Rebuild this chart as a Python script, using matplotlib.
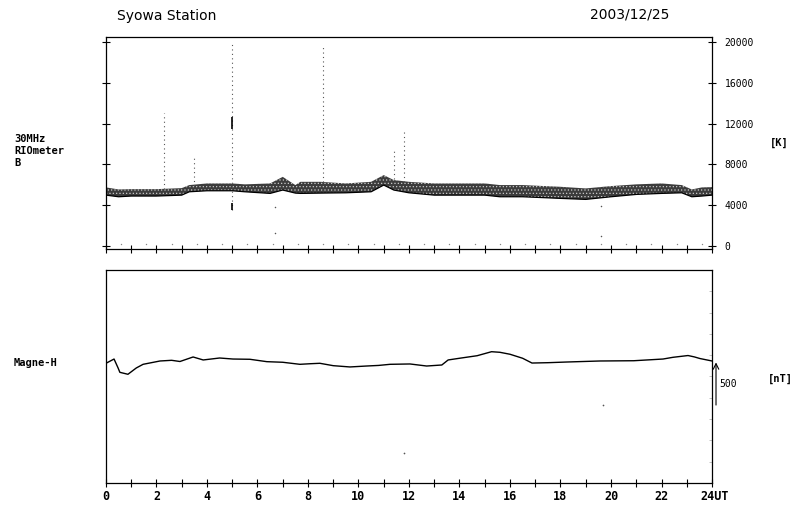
import matplotlib.pyplot as plt
import matplotlib.transforms as mtransforms

# 30 MHz riometer: envelope of the dense noise band [K]
rio_t = [0, 0.5, 1, 2, 3, 3.3, 4, 5, 5.5, 6.5, 7.0, 7.5, 7.7, 8.5, 9.5, 10.5, 11.0,
         11.4, 12, 13, 14, 15, 15.6, 16.5, 18, 19, 20, 21, 22, 22.8, 23.2, 23.6, 24]
rio_high = [5720, 5520, 5550, 5550, 5650, 5950, 6110, 6110, 6020, 6110, 6760, 5950,
            6270, 6270, 6110, 6270, 6930, 6440, 6270, 6110, 6110, 6110, 5950, 5950,
            5780, 5620, 5850, 6020, 6110, 5950, 5520, 5720, 5750]
rio_low = [4960, 4800, 4870, 4870, 4960, 5290, 5390, 5390, 5290, 5130, 5460, 5160,
           5130, 5160, 5190, 5290, 5950, 5460, 5190, 4960, 4960, 4960, 4800, 4800,
           4640, 4540, 4800, 5030, 5130, 5190, 4800, 4870, 4960]

# spikes (time, from, to) [K]
spike_t = [2.3, 3.5, 5.0, 8.6, 11.4, 11.8]
spike_lo = [5600, 5900, 3500, 6300, 6500, 6300]
spike_hi = [13000, 8900, 20000, 19700, 9500, 11400]

# isolated points
rio_dot_t = [6.7, 6.7, 19.6, 19.6]
rio_dot_v = [3780, 1260, 3900, 930]
base_dot_t = [0.6, 1.6, 2.6, 3.6, 4.6, 5.6, 6.6, 7.6, 8.6, 9.6, 10.6, 11.6,
              12.6, 13.6, 14.6, 15.6, 16.6, 17.6, 18.6, 19.6, 20.6, 21.6, 22.6, 23.6]
base_dot_v = [150] * len(base_dot_t)

# Magne-H, relative [nT]
mag_t = [0, 0.32, 0.48, 0.55, 0.87, 1.2, 1.47, 2.14, 2.6, 2.93, 3.45, 3.85, 4.5, 5.03,
         5.7, 6.37, 7.0, 7.68, 8.1, 8.47, 9.0, 9.66, 10.32, 10.8, 11.25, 12.04, 12.7,
         13.3, 13.55, 14.0, 14.7, 15.27, 15.6, 16.0, 16.5, 16.87, 17.5, 18.25, 19.56,
         20.9, 22.06, 22.45, 23.05, 23.3, 23.52, 24]
mag_v = [155, 205, 100, 49, 26, 100, 143, 182, 190, 176, 229, 194, 217, 205,
         202, 174, 167, 143, 150, 155, 127, 112, 123, 130, 143, 147, 123,
         135, 194, 214, 244, 291, 284, 261, 214, 158, 162, 170, 182,
         185, 205, 225, 246, 230, 211, 182]
mag_dot_t = [19.7, 11.8]
mag_dot_v = [-335, -900]

rio_ticks = [0, 4000, 8000, 12000, 16000, 20000]
hour_labels = ['0', '', '2', '', '4', '', '6', '', '8', '', '10', '', '12', '',
               '14', '', '16', '', '18', '', '20', '', '22', '', '24UT']

mono = 'DejaVu Sans Mono'
plt.rcParams['hatch.linewidth'] = 0.5
fig = plt.figure(figsize=(8.01, 5.07), dpi=100)
ax1 = fig.add_axes([0.1323, 0.5089, 0.7566, 0.4181])
ax2 = fig.add_axes([0.1323, 0.0473, 0.7566, 0.4202])

# --- riometer panel
ax1.fill_between(rio_t, rio_low, rio_high, facecolor='#3c3c3c', edgecolor='#c8c8c8',
                 hatch='.....', linewidth=0)
ax1.plot(rio_t, rio_low, color='black', lw=0.9)
ax1.vlines(spike_t, spike_lo, spike_hi, colors='#555555', linestyles=(0, (1, 3)), lw=0.8)
ax1.vlines([5.0], [11500], [12600], colors='black', lw=1.2)
ax1.vlines([5.0], [3500], [4200], colors='black', lw=1.2)
ax1.scatter(rio_dot_t, rio_dot_v, s=1.2, color='#555555', linewidths=0)
ax1.scatter(base_dot_t, base_dot_v, s=1.0, color='#888888', linewidths=0)
ax1.set_xlim(0, 24)
ax1.set_ylim(-340, 20520)
ax1.set_xticks(range(0, 25))
ax1.set_xticklabels([])
ax1.set_yticks(rio_ticks)
ax1.yaxis.tick_right()
ax1.tick_params(axis='y', which='both', left=True, right=True, direction='inout',
                length=6, width=0.8, labelsize=7, pad=6)
ax1.tick_params(axis='x', direction='inout', length=6, width=0.8)
for lab in ax1.get_yticklabels():
    lab.set_family(mono)

# --- magnetometer panel
ax2.plot(mag_t, mag_v, color='black', lw=1.0)
ax2.scatter(mag_dot_t, mag_dot_v, s=1.5, color='#555555', linewidths=0)
ax2.set_xlim(0, 24)
ax2.set_ylim(-1250, 1250)
ax2.set_xticks(range(0, 25))
ax2.set_xticklabels(hour_labels, family=mono, fontweight='bold', fontsize=8.5)
ax2.tick_params(axis='x', direction='inout', length=6, width=0.8, pad=2)
ax2.set_yticks(range(-1000, 1001, 250))
ax2.set_yticklabels([])
ax2.tick_params(axis='y', left=False, right=True, direction='in', length=2.5,
                width=0.5, color='#aaaaaa')
last = ax2.get_xticklabels()[-1]
last.set_ha('left')
last.set_transform(last.get_transform() + mtransforms.ScaledTranslation(-12 / 100, 0, fig.dpi_scale_trans))

ax2.annotate('', xy=(1.0066, 165), xytext=(1.0066, -335),
             xycoords=('axes fraction', 'data'), textcoords=('axes fraction', 'data'),
             arrowprops=dict(arrowstyle='->', lw=0.8, color='black', shrinkA=0, shrinkB=0))
ax2.text(1.012, -85, '500', transform=ax2.get_yaxis_transform(), fontsize=7,
         family=mono, va='center', ha='left')

for ax in (ax1, ax2):
    for sp in ax.spines.values():
        sp.set_linewidth(0.9)

# --- labels
fig.text(117 / 801, 1 - 16 / 507, 'Syowa Station', fontsize=10, va='center', ha='left')
fig.text(590 / 801, 1 - 14 / 507, '2003/12/25', fontsize=10, va='center', ha='left')
fig.text(14 / 801, 1 - 151 / 507, '30MHz\nRIOmeter\nB', fontsize=7.5, family=mono,
         fontweight='bold', va='center', ha='left', linespacing=1.2)
fig.text(14 / 801, 1 - 363 / 507, 'Magne-H', fontsize=7.5, family=mono,
         fontweight='bold', va='center', ha='left')
fig.text(770 / 801, 1 - 143 / 507, '[K]', fontsize=7.5, family=mono,
         fontweight='bold', va='center', ha='left')
fig.text(768 / 801, 1 - 379 / 507, '[nT]', fontsize=7.5, family=mono,
         fontweight='bold', va='center', ha='left')

plt.savefig('out.png', dpi=100)
